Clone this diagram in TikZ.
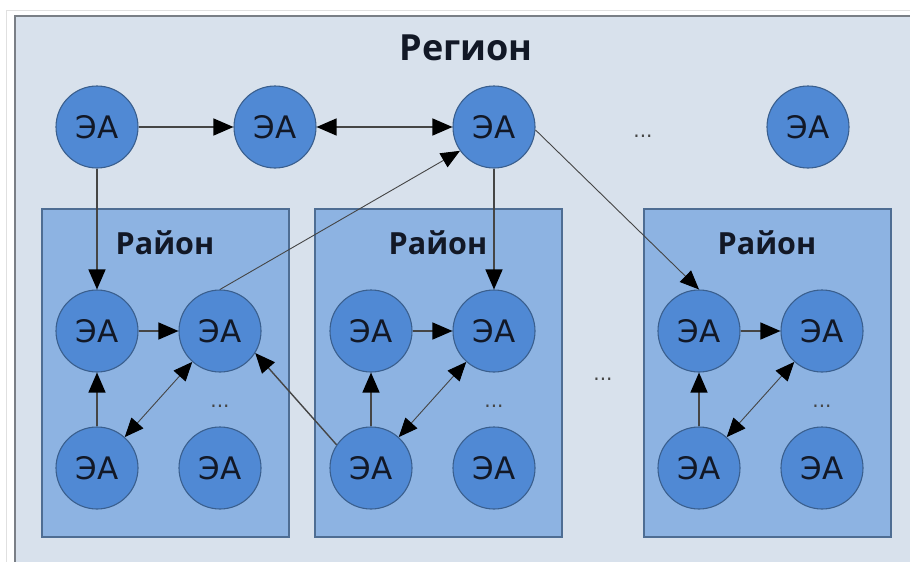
\documentclass[tikz,border=0pt]{standalone}
\usepackage{fontspec}
\setmainfont{DejaVu Sans}
\newfontfamily\headfont{Open Sans}
\usetikzlibrary{arrows.meta}
\definecolor{regionfill}{HTML}{D8E1EC}
\definecolor{regionline}{HTML}{7A7F86}
\definecolor{districtfill}{HTML}{8DB3E2}
\definecolor{districtline}{HTML}{4E6D93}
\definecolor{agentfill}{HTML}{5089D4}
\definecolor{agentline}{HTML}{3A5F8E}
\definecolor{linkgray}{HTML}{454545}
\definecolor{inktext}{HTML}{121826}
\tikzset{
  bighead/.tip={Triangle[length=20pt,width=17pt,black]},
  smallhead/.tip={Triangle[length=19pt,width=16pt,black]},
  agent/.style={circle, draw=agentline, line width=1.1pt, fill=agentfill,
    minimum size=82pt, inner sep=0pt, text=inktext,
    font=\fontsize{31}{31}\selectfont},
  district/.style={draw=districtline, line width=1.4pt, fill=districtfill},
  districtlabel/.style={font=\headfont\bfseries\fontsize{30.5}{30.5}\selectfont, text=inktext},
  ellipsis/.style={font=\fontsize{20}{20}\selectfont, text=linkgray},
  link/.style={draw=linkgray, line width=1.4pt, -bighead},
  biglink/.style={draw=linkgray, line width=1.4pt, bighead-bighead},
  thinlink/.style={draw=linkgray, line width=0.9pt, -smallhead},
  thinbilink/.style={draw=linkgray, line width=0.9pt, smallhead-smallhead},
}
\begin{document}
\begin{tikzpicture}[x=1pt,y=-1pt]
  \useasboundingbox (0,0) rectangle (910,562);
  \fill[white] (0,0) rectangle (910,562);
  % faint outer frame
  \draw[black!12, line width=1pt] (6,580) -- (6,10) -- (930,10);
  % region area
  \draw[regionline, line width=1.8pt, fill=regionfill] (15,600) -- (15,16) -- (940,16) -- (940,600) -- cycle;
  \node[font=\headfont\bfseries\fontsize{36}{36}\selectfont, text=inktext] (title) at (466,48) {Регион};

  % districts
  \draw[district] (42,209) rectangle (289,537);
  \draw[district] (315,209) rectangle (562,537);
  \draw[district] (644,209) rectangle (891,537);
  \node[districtlabel] (lab1) at (165,243) {Район};
  \node[districtlabel] (lab2) at (438,243) {Район};
  \node[districtlabel] (lab3) at (767,243) {Район};

  % regional agents
  \node[agent] (t1) at (97,127) {ЭА};
  \node[agent] (t2) at (275,127) {ЭА};
  \node[agent] (t3) at (494,127) {ЭА};
  \node[agent] (t4) at (808,127) {ЭА};
  \node[ellipsis] (tdots) at (643,136) {...};

  % district 1
  \node[agent] (a1) at (97,331) {ЭА};
  \node[agent] (a2) at (220,331) {ЭА};
  \node[agent] (a3) at (97,468) {ЭА};
  \node[agent] (a4) at (220,468) {ЭА};
  \node[ellipsis] (adots) at (220,406) {...};

  % district 2
  \node[agent] (c1) at (371,331) {ЭА};
  \node[agent] (c2) at (494,331) {ЭА};
  \node[agent] (c3) at (371,468) {ЭА};
  \node[agent] (c4) at (494,468) {ЭА};
  \node[ellipsis] (cdots) at (494,406) {...};

  % district 3
  \node[agent] (d1) at (699,331) {ЭА};
  \node[agent] (d2) at (822,331) {ЭА};
  \node[agent] (d3) at (699,468) {ЭА};
  \node[agent] (d4) at (822,468) {ЭА};
  \node[ellipsis] (ddots) at (822,406) {...};

  \node[ellipsis] (mdots) at (603,379) {...};

  % links between regional agents
  \draw[link] (t1) -- (t2);
  \draw[biglink] (t2) -- (t3);
  \draw[link] (t1) -- (a1);
  \draw[link] (t3) -- (c2);
  \draw[thinlink] (t3.-4) -- (d1.north);
  \draw[thinlink] (a2.north) -- (t3.215);

  % links inside districts
  \draw[link] (a1) -- (a2);
  \draw[link] (a3) -- (a1);
  \draw[thinbilink] (a3) -- (a2);

  \draw[link] (c1) -- (c2);
  \draw[link] (c3) -- (c1);
  \draw[thinbilink] (c3) -- (c2);
  \draw[link] (c3.146) -- (a2.-32);

  \draw[link] (d1) -- (d2);
  \draw[link] (d3) -- (d1);
  \draw[thinbilink] (d3) -- (d2);
\end{tikzpicture}
\end{document}
